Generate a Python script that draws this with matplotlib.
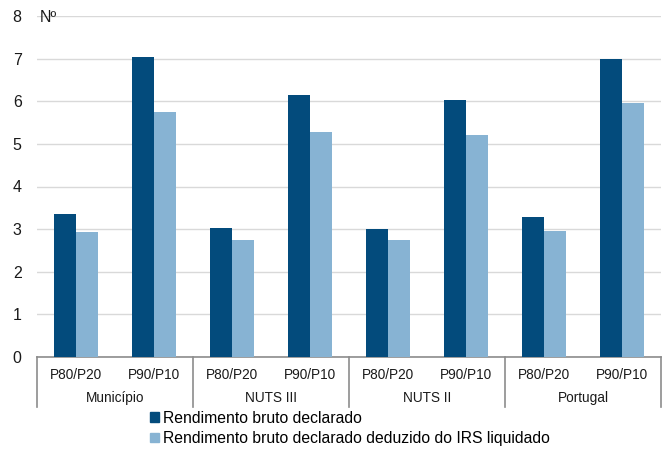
import matplotlib
matplotlib.use("Agg")
import matplotlib.pyplot as plt
import matplotlib.transforms as mtransforms
from matplotlib.patches import Patch
import numpy as np

plt.rcParams["font.family"] = ["Liberation Sans", "DejaVu Sans"]

# ── Data ──────────────────────────────────────────────────────────────────────
groups     = ["Município", "NUTS III", "NUTS II", "Portugal"]
ratios     = ["P80/P20", "P90/P10"]
bruto      = [3.36, 7.04, 3.03, 6.14, 3.00, 6.03, 3.29, 7.00]
liquido    = [2.93, 5.75, 2.75, 5.28, 2.75, 5.20, 2.95, 5.96]
series_lbl = ["Rendimento bruto declarado",
              "Rendimento bruto declarado deduzido do IRS liquidado"]

DARK  = "#034b7c"
LIGHT = "#87b3d3"
GRID  = "#d9d9d9"
AXIS  = "#8c8c8c"

W, H = 668, 450
fig = plt.figure(figsize=(W / 100, H / 100), dpi=100)
ax = fig.add_axes([37 / W, (H - 357) / H, (661 - 37) / W, (357 - 16) / H])

x = np.arange(len(bruto))
bw = 0.28
ax.bar(x - bw / 2, bruto, bw, color=DARK, zorder=3)
ax.bar(x + bw / 2, liquido, bw, color=LIGHT, zorder=3)

ax.set_xlim(-0.5, len(bruto) - 0.5)
ax.set_ylim(0, 8)
ax.set_yticks(range(0, 9))
ax.yaxis.grid(True, color=GRID, linewidth=1.0, zorder=0)
ax.tick_params(axis="y", length=0, pad=11, labelsize=11.5, colors="#1a1a1a")
for s in ("left", "right", "top"):
    ax.spines[s].set_visible(False)
ax.spines["bottom"].set_color(AXIS)
ax.spines["bottom"].set_linewidth(1.2)

ax.set_xticks(x)
ax.set_xticklabels(ratios * len(groups), fontsize=9.8, color="#1a1a1a")
ax.tick_params(axis="x", length=0, pad=8)

# group separators and group labels below the axis
trans = mtransforms.blended_transform_factory(ax.transData, ax.transAxes)
axis_h = 357 - 16
for b in np.arange(-0.5, len(bruto), 2):
    ax.plot([b, b], [0, -(407 - 357) / axis_h], transform=trans,
            color=AXIS, linewidth=1.2, clip_on=False)
for i, g in enumerate(groups):
    ax.text(2 * i + 0.5, -(398 - 357) / axis_h, g, transform=trans,
            ha="center", va="center", fontsize=9.8, color="#1a1a1a")

fig.text(40 / W, 1 - 17 / H, "Nº", ha="left", va="center", fontsize=11.5,
         color="#1a1a1a")

handles = [Patch(color=DARK), Patch(color=LIGHT)]
fig.legend(handles, series_lbl, loc="upper left",
           bbox_to_anchor=(150 / W, 1 - 411 / H), frameon=False,
           fontsize=11.3, handlelength=0.6, handleheight=0.6,
           handletextpad=0.25, labelspacing=0.32, borderpad=0,
           borderaxespad=0)

fig.savefig("out.png", dpi=100)
